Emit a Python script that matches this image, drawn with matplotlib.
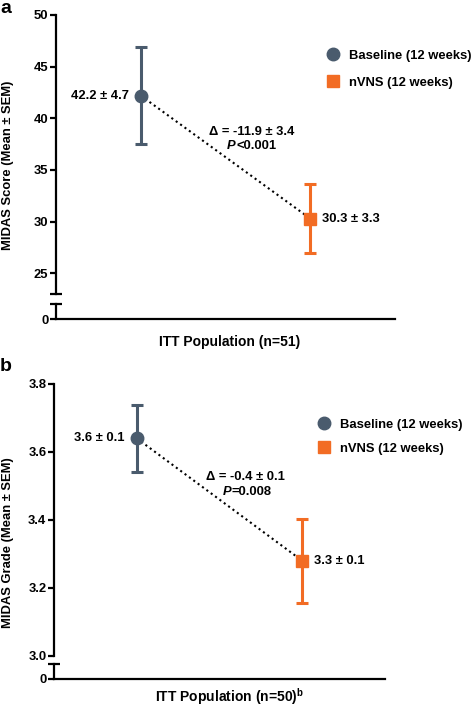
import matplotlib
matplotlib.use("Agg")
import matplotlib.pyplot as plt
from matplotlib.lines import Line2D

plt.rcParams['font.family'] = ['Liberation Sans', 'DejaVu Sans']
plt.rcParams['font.weight'] = 'bold'
plt.rcParams['mathtext.fontset'] = 'custom'
plt.rcParams['mathtext.bf'] = 'Liberation Sans:bold'
plt.rcParams['mathtext.rm'] = 'Liberation Sans:bold'

# ---- data ----
groups = ["Baseline (12 weeks)", "nVNS (12 weeks)"]
score_mean = [42.2, 30.3]
score_sem = [4.7, 3.3]
score_labels = ["42.2 \u00b1 4.7", "30.3 \u00b1 3.3"]
score_delta = "\u0394 = -11.9 \u00b1 3.4"
score_p = "<0.001"
score_ticks = [25, 30, 35, 40, 45, 50]

grade_mean = [3.64, 3.28]
grade_sem = [0.098, 0.124]
grade_labels = ["3.6 \u00b1 0.1", "3.3 \u00b1 0.1"]
grade_delta = "\u0394 = -0.4 \u00b1 0.1"
grade_p = "=0.008"
grade_ticks = [3.0, 3.2, 3.4, 3.6, 3.8]

colors = ["#4a5b6d", "#f26c24"]
markers = ["o", "s"]
xpos = [1, 3]

FS = 9.4

fig = plt.figure(figsize=(4.72, 7.10), dpi=100)


def panel(top_rect, bot_rect, means, sems, labels, delta, ptxt, ticks, ylim,
          ylabel, xlabel, letter, letter_y, ylab_y, xlab_x, xlab_y,
          delta_xy, leg_anchor, leg_spacing, fmt):
    ax = fig.add_axes(top_rect)
    axb = fig.add_axes(bot_rect)
    for a in (ax, axb):
        a.set_xlim(0, 4)
        a.patch.set_visible(False)
        for s in ("top", "right"):
            a.spines[s].set_visible(False)
        a.spines["left"].set_linewidth(1.6)
        a.set_xticks([])
    ax.spines["bottom"].set_visible(False)
    axb.spines["bottom"].set_linewidth(1.6)
    ax.set_ylim(*ylim)
    ax.set_yticks(ticks)
    ax.set_yticklabels([fmt(t) for t in ticks])
    ax.tick_params(axis="y", length=4.5, width=1.6, labelsize=FS, pad=1.0)
    if ylim[0] < ticks[0]:
        ax.set_yticks([ylim[0]], minor=True)
        ax.tick_params(axis="y", which="minor", direction="inout", length=8, width=1.6)
    axb.set_ylim(0, 1)
    axb.set_yticks([0])
    axb.set_yticklabels(["0"])
    axb.tick_params(axis="y", length=4.5, width=1.6, labelsize=FS, pad=1.0)
    axb.set_yticks([1], minor=True)
    axb.tick_params(axis="y", which="minor", direction="inout", length=8, width=1.6)

    # connecting dotted line
    ax.plot(xpos, means, color="black", linestyle=(0, (1, 1.6)), lw=1.5, zorder=2)
    for i in range(2):
        ax.errorbar(xpos[i], means[i], yerr=sems[i], fmt=markers[i], color=colors[i],
                    mec=colors[i], ms=9, elinewidth=2.2, capsize=4.5, capthick=2.2,
                    zorder=3)
    ax.annotate(labels[0], (xpos[0], means[0]), xytext=(-8.5, 0), textcoords="offset points",
                ha="right", va="center", fontsize=FS, fontweight="bold")
    ax.annotate(labels[1], (xpos[1], means[1]), xytext=(8.5, 0), textcoords="offset points",
                ha="left", va="center", fontsize=FS, fontweight="bold")
    ax.text(delta_xy[0], delta_xy[1], delta, ha="center", va="center", fontsize=FS,
            fontweight="bold")
    tp = ax.text(delta_xy[2], delta_xy[3], "P", ha="left", va="center", fontsize=FS,
                 fontweight="bold", style="italic")
    ax.annotate(ptxt, xy=(1, 0), xycoords=tp, xytext=(0.3, 0), textcoords="offset points",
                ha="left", va="bottom", fontsize=FS, fontweight="bold")

    handles = [Line2D([], [], marker=markers[i], color=colors[i], ls="none", ms=9,
                      mec=colors[i]) for i in range(2)]
    fig.legend(handles, groups, loc="upper left", bbox_to_anchor=leg_anchor,
               frameon=False, fontsize=FS, handlelength=1.0, handletextpad=0.72,
               labelspacing=leg_spacing, borderpad=0, borderaxespad=0)

    fig.text(0.017, ylab_y, ylabel, rotation=90, ha="center", va="center", fontsize=FS,
             fontweight="bold")
    fig.text(xlab_x, xlab_y, xlabel, ha="center", va="center", fontsize=10,
             fontweight="bold")
    fig.text(0.0, letter_y, letter, ha="left", va="top", fontsize=14, fontweight="bold")
    return ax


panel([0.1186, 0.5859, 0.7182, 0.393], [0.1186, 0.5507, 0.7182, 0.0211],
      score_mean, score_sem, score_labels, score_delta, score_p, score_ticks, (23, 50),
      "MIDAS Score (Mean \u00b1 SEM)", "ITT Population (n=51)", "a", 1.0,
      1 - 165 / 710, 230 / 472, 1 - 342 / 710,
      (2.31, 38.68, 2.02, 37.33), (0.692, 0.9303), 1.15, lambda t: f"{t:d}")

panel([0.1144, 0.0761, 0.7013, 0.3831], [0.1144, 0.0437, 0.7013, 0.0211],
      grade_mean, grade_sem, grade_labels, grade_delta, grade_p, grade_ticks, (3.0, 3.8),
      "MIDAS Grade (Mean \u00b1 SEM)", "ITT Population (n=50)$^{\\mathbf{b}}$", "b",
      1 - 358 / 710, 1 - 543 / 710, 230 / 472, 1 - 697 / 710,
      (2.31, 3.527, 2.04, 3.483), (0.673, 0.4106), 0.92, lambda t: f"{t:.1f}")

fig.savefig("out.png", dpi=100)
